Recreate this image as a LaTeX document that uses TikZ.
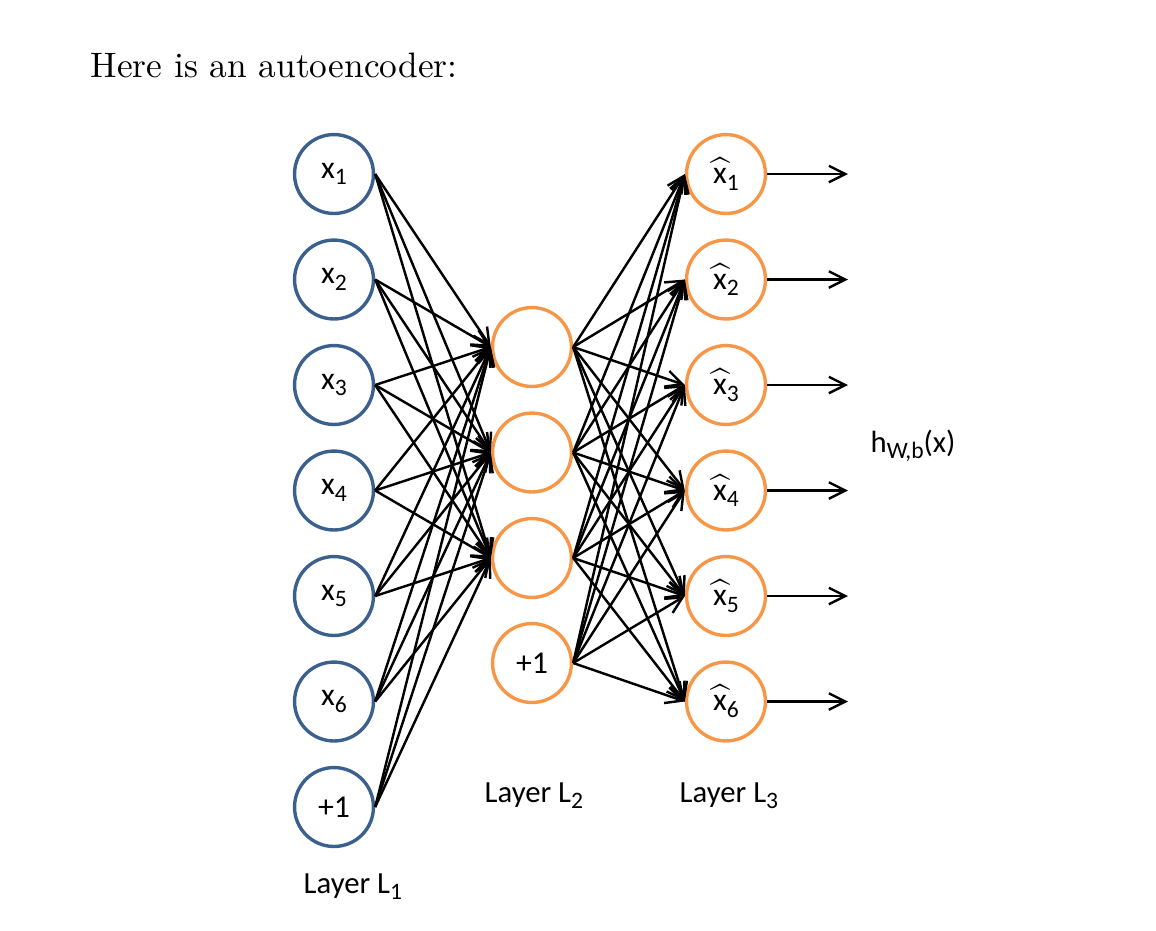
\documentclass[tikz,border=0pt]{standalone}
\usepackage{fontspec}
\newfontfamily\calib{Carlito}
\usetikzlibrary{arrows.meta}
\definecolor{unitblue}{RGB}{60,96,142}
\definecolor{unitorange}{RGB}{247,150,70}
\newcommand\lsub[1]{\raisebox{-1.9pt}{\fontsize{6.6}{7}\selectfont #1}}

\begin{document}
\begin{tikzpicture}[x=0.28pt, y=-0.28pt,
    unit/.style={circle, draw, line width=0.95pt, minimum size=22.1pt, inner sep=0pt,
                 font=\calib\fontsize{8.9}{10}\selectfont},
    inunit/.style={unit, draw=unitblue},
    hidunit/.style={unit, draw=unitorange},
    wire/.style={line width=0.68pt,
                 -{Straight Barb[length=4.6pt, width=4.6pt, line width=0.68pt]}},
    lbl/.style={anchor=base west, inner sep=0pt, font=\calib\fontsize{8.6}{10}\selectfont}]
  \useasboundingbox (0,0) rectangle (1156,930);
  \node[anchor=base west, inner sep=0pt, font=\fontsize{9.9}{12}\selectfont] (title) at (90,77)
    {Here is an autoencoder:};
  % input layer
  \foreach \i in {1,...,6}{
    \node[inunit] (in\i) at (334,{174+105.5*(\i-1)}) {x\lsub{\i}};
  }
  \node[inunit] (in7) at (334,807) {+1};
  % hidden layer
  \foreach \j in {1,2,3}{
    \node[hidunit] (hid\j) at (532,{347+105.5*(\j-1)}) {};
  }
  \node[hidunit] (hid4) at (532,663) {+1};
  % output layer
  \foreach \k in {1,...,6}{
    \node[hidunit] (out\k) at (726,{174+105.5*(\k-1)}) {\(\widehat{\mbox{x}}\)\lsub{\k}};
    \coordinate (end\k) at (848,{174+105.5*(\k-1)});
    \draw[wire] (out\k.east) -- (end\k);
  }
  \foreach \i in {1,...,7}{
    \foreach \j in {1,2,3}{
      \draw[wire] (in\i.east) -- (hid\j.west);
    }
  }
  \foreach \j in {1,...,4}{
    \foreach \k in {1,...,6}{
      \draw[wire] (hid\j.east) -- (out\k.west);
    }
  }
  \node[lbl] (h) at (870,452) {h\lsub{W,b}(x)};
  \node[lbl] (l1) at (303,893) {Layer L\lsub{1}};
  \node[lbl] (l2) at (484,802) {Layer L\lsub{2}};
  \node[lbl] (l3) at (679,802) {Layer L\lsub{3}};
\end{tikzpicture}
\end{document}
